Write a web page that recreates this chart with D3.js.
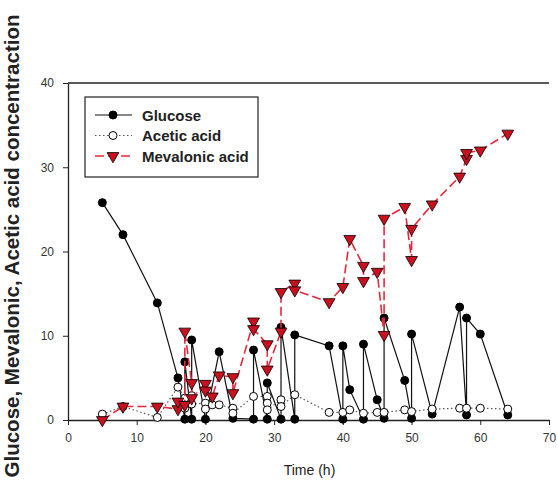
<!DOCTYPE html>
<html>
<head>
<meta charset="utf-8">
<script src="https://cdn.jsdelivr.net/npm/d3@7"></script>
<style>
  body { margin: 0; background: #fff; }
  svg { font-family: Arial, "Liberation Sans", sans-serif; }
</style>
</head>
<body>
<div id="chart"></div>
<script>
// values (h, g/L)
const glucoseTime = [5, 8, 13, 16, 17, 17, 18, 18, 20, 22, 24, 27, 27, 29, 29, 31, 31, 33, 33, 38, 40, 40, 41, 43, 43, 45, 46, 46, 49, 50, 50, 53, 57, 58, 58, 60, 64]
const glucose = [25.8, 22.0, 13.9, 5.0, 0.1, 6.9, 0.1, 9.5, 0.1, 8.1, 0.2, 0.1, 8.3, 0.1, 4.4, 0.1, 11.0, 0.1, 10.1, 8.8, 0.1, 8.8, 3.6, 0.1, 9.0, 2.4, 0.2, 12.1, 4.7, 0.2, 10.2, 0.7, 13.4, 0.6, 12.1, 10.2, 0.6]

const aceticTime = [5, 8, 13, 16, 17, 17, 18, 18, 20, 20, 21, 22, 24, 24, 27, 29, 29, 29, 31, 31, 33, 38, 40, 41, 43, 45, 46, 49, 50, 53, 57, 58, 60, 64]
const acetic = [0.7, 1.6, 0.3, 3.9, 2.6, 1.4, 2.9, 1.9, 2.0, 1.3, 1.8, 1.8, 1.4, 0.8, 2.8, 2.8, 2.0, 1.2, 2.4, 1.6, 3.0, 0.9, 0.9, 1.2, 0.8, 0.9, 0.9, 1.2, 1.0, 1.3, 1.4, 1.4, 1.4, 1.3]

const mevalonicTime = [5, 8, 13, 16, 16, 17, 17, 18, 18, 20, 20, 21, 22, 24, 24, 27, 27, 29, 29, 31, 31, 33, 33, 38, 40, 41, 43, 43, 45, 46, 46, 49, 50, 50, 53, 57, 58, 58, 60, 64]
const mevalonic = [0, 1.6, 1.6, 1.3, 2.2, 1.8, 10.5, 4.4, 2.6, 4.3, 3.5, 2.8, 5.3, 5.1, 3.2, 11.7, 10.8, 9.0, 6.0, 10.5, 15.2, 16.2, 15.4, 14.0, 15.8, 21.5, 18.3, 16.5, 17.6, 10.1, 23.9, 25.3, 19.0, 22.7, 25.6, 28.9, 31.0, 31.7, 32.0, 34.0]

const xTicks = [0, 10, 20, 30, 40, 50, 60, 70]
const yTicks = [0, 10, 20, 30, 40]
const seriesNames = ["Glucose", "Acetic acid", "Mevalonic acid"]

const W = 557, H = 489
const margin = {top: 83, right: 8, bottom: 69, left: 68}

const svg = d3.select("#chart").append("svg")
  .attr("width", W)
  .attr("height", H)

const x = d3.scaleLinear().domain([0, 70]).range([margin.left, W - margin.right])
const y = d3.scaleLinear().domain([0, 40]).range([H - margin.bottom, margin.top])

const zip = (ts, vs) => ts.map((t, i) => [t, vs[i]])

const series = [
  {name: seriesNames[0], data: zip(glucoseTime, glucose), stroke: "#111", dash: null, width: 1.2, marker: "circle", fill: "#000"},
  {name: seriesNames[1], data: zip(aceticTime, acetic), stroke: "#555", dash: "1.5,2.5", width: 1.2, marker: "circle", fill: "#fff"},
  {name: seriesNames[2], data: zip(mevalonicTime, mevalonic), stroke: "#e8283c", dash: "9,4", width: 1.6, marker: "triangle", fill: "#c8101e"},
]

// axes
const xAxis = svg.append("g")
  .attr("transform", `translate(0,${y(0)})`)
  .call(d3.axisBottom(x).tickValues(xTicks).tickSize(5).tickPadding(8).tickSizeOuter(0))
const yAxis = svg.append("g")
  .attr("transform", `translate(${x(0)},0)`)
  .call(d3.axisLeft(y).tickValues(yTicks).tickSize(5).tickPadding(9).tickSizeOuter(0))

for (const ax of [xAxis, yAxis]) {
  ax.select(".domain").attr("stroke", "#222").attr("stroke-width", 1.3)
  ax.selectAll(".tick line").attr("stroke", "#222")
  ax.selectAll(".tick text").attr("font-size", 12).attr("fill", "#333")
    .attr("font-family", "Arial, 'Liberation Sans', sans-serif")
}

// top frame line
svg.append("line")
  .attr("x1", x(0)).attr("x2", x(70))
  .attr("y1", y(40)).attr("y2", y(40))
  .attr("stroke", "#222").attr("stroke-width", 1.3)

svg.append("text")
  .attr("x", (x(0) + x(70)) / 2 + 1)
  .attr("y", 475)
  .attr("text-anchor", "middle")
  .attr("font-size", 14)
  .attr("fill", "#222")
  .text("Time (h)")

svg.append("text")
  .attr("transform", `translate(19,${246}) rotate(-90)`)
  .attr("text-anchor", "middle")
  .attr("font-size", 20.5)
  .attr("font-weight", "bold")
  .attr("fill", "#222")
  .text("Glucose, Mevalonic, Acetic acid concentraction")

const tri = d3.symbol().type(d3.symbolTriangle).size(60)

function drawMarker(g, s) {
  if (s.marker === "circle") {
    g.append("circle").attr("r", 4)
      .attr("fill", s.fill).attr("stroke", "#000").attr("stroke-width", 1)
  } else {
    g.append("path").attr("d", tri).attr("transform", "rotate(180)")
      .attr("fill", s.fill).attr("stroke", "#000").attr("stroke-width", 0.8)
  }
}

const line = d3.line().x(d => x(d[0])).y(d => y(d[1]))

for (const s of series) {
  const g = svg.append("g")
  g.append("path")
    .attr("d", line(s.data))
    .attr("fill", "none")
    .attr("stroke", s.stroke)
    .attr("stroke-width", s.width)
    .attr("stroke-dasharray", s.dash)
  g.selectAll("g.pt")
    .data(s.data)
    .join("g")
      .attr("class", "pt")
      .attr("transform", d => `translate(${x(d[0])},${y(d[1])})`)
      .each(function() { drawMarker(d3.select(this), s) })
}

// legend
const legend = svg.append("g").attr("transform", "translate(85,97)")
legend.append("rect")
  .attr("width", 173).attr("height", 80)
  .attr("fill", "#fff").attr("stroke", "#222").attr("stroke-width", 1.2)

series.forEach((s, i) => {
  const row = legend.append("g").attr("transform", `translate(0,${18 + i * 20.5})`)
  row.append("line")
    .attr("x1", 10).attr("x2", 47)
    .attr("stroke", s.stroke).attr("stroke-width", s.width)
    .attr("stroke-dasharray", s.dash)
  drawMarker(row.append("g").attr("transform", "translate(28,0)"), s)
  row.append("text")
    .attr("x", 57).attr("y", 5.5)
    .attr("font-size", 15).attr("font-weight", "bold").attr("fill", "#222")
    .text(s.name)
})
</script>
</body>
</html>
